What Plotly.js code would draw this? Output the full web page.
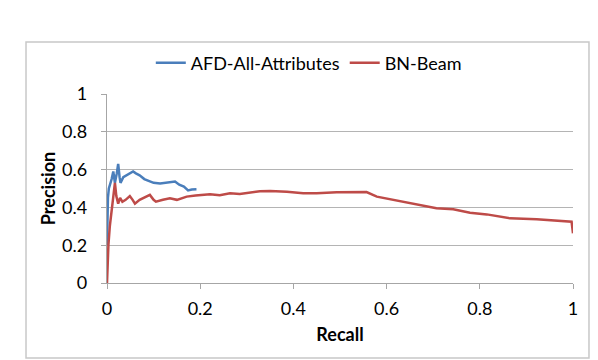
<!DOCTYPE html>
<html>
<head>
<meta charset="utf-8">
<script src="https://cdn.plot.ly/plotly-3.0.1.min.js"></script>
<style>html,body{margin:0;padding:0;background:#fff;}#chart{width:598px;height:360px;}</style>
</head>
<body>
<div id="chart"></div>
<script>
const afdName = "AFD-All-Attributes";
const afdRecall = [0, 0.0005, 0.002, 0.004, 0.007, 0.01, 0.0135, 0.017, 0.021, 0.024, 0.027, 0.029, 0.035, 0.042, 0.05, 0.056, 0.062, 0.07, 0.08, 0.092, 0.1, 0.114, 0.125, 0.135, 0.146, 0.155, 0.165, 0.174, 0.182, 0.192];
const afdPrecision = [0.2, 0.35, 0.45, 0.5, 0.52, 0.55, 0.59, 0.53, 0.58, 0.63, 0.56, 0.53, 0.56, 0.57, 0.58, 0.59, 0.58, 0.57, 0.55, 0.54, 0.53, 0.527, 0.53, 0.535, 0.537, 0.52, 0.51, 0.49, 0.495, 0.496];

const bnName = "BN-Beam";
const bnRecall = [0, 0.001, 0.003, 0.006, 0.01, 0.014, 0.017, 0.02, 0.024, 0.028, 0.033, 0.04, 0.049, 0.055, 0.06, 0.07, 0.08, 0.092, 0.1, 0.105, 0.12, 0.135, 0.15, 0.171, 0.19, 0.2, 0.221, 0.242, 0.264, 0.285, 0.307, 0.328, 0.35, 0.386, 0.421, 0.45, 0.493, 0.536, 0.557, 0.579, 0.607, 0.636, 0.672, 0.707, 0.743, 0.779, 0.815, 0.865, 0.922, 0.965, 0.997, 1.0];
const bnPrecision = [0, 0.1, 0.2, 0.3, 0.39, 0.47, 0.53, 0.46, 0.42, 0.45, 0.43, 0.44, 0.46, 0.44, 0.42, 0.44, 0.45, 0.466, 0.44, 0.43, 0.44, 0.448, 0.44, 0.457, 0.463, 0.466, 0.47, 0.464, 0.475, 0.471, 0.478, 0.485, 0.487, 0.483, 0.475, 0.475, 0.48, 0.481, 0.481, 0.457, 0.443, 0.43, 0.409, 0.395, 0.39, 0.372, 0.363, 0.342, 0.337, 0.33, 0.324, 0.263];

const xTitle = "Recall";
const yTitle = "Precision";

const font = "Lato, 'Open Sans', sans-serif";

const traces = [
  {x: afdRecall, y: afdPrecision, name: afdName, type: "scatter", mode: "lines",
   line: {color: "#4a7ebb", width: 2.5}},
  {x: bnRecall, y: bnPrecision, name: bnName, type: "scatter", mode: "lines",
   line: {color: "#be4b48", width: 2.5}}
];

const layout = {
  width: 598, height: 360,
  margin: {l: 107, r: 25, t: 94, b: 77},
  paper_bgcolor: "#ffffff", plot_bgcolor: "#ffffff",
  font: {family: font, size: 18, color: "#000"},
  showlegend: true,
  legend: {orientation: "h", x: 0.094, xanchor: "left", y: 1.164, yanchor: "middle",
           font: {family: font, size: 18, color: "#000"}, itemwidth: 30, tracegroupgap: 0},
  xaxis: {range: [0, 1], dtick: 0.2, tick0: 0, showgrid: false, zeroline: false,
          showline: true, linecolor: "#a6a6a6", linewidth: 1.3,
          ticks: "outside", ticklen: 5, tickcolor: "#a6a6a6", ticklabelstandoff: 4,
          tickfont: {family: font, size: 18},
          title: {text: xTitle, font: {family: font, size: 18, weight: "bold"}, standoff: 10}},
  yaxis: {range: [0, 1], dtick: 0.2, tick0: 0, showgrid: true, gridcolor: "#b4b4b4", gridwidth: 1.3,
          zeroline: false, showline: true, linecolor: "#a6a6a6", linewidth: 1.3,
          ticks: "outside", ticklen: 5, tickcolor: "#a6a6a6", ticklabelstandoff: 10,
          tickfont: {family: font, size: 18},
          title: {text: yTitle, font: {family: font, size: 18, weight: "bold"}, standoff: 1}},
  shapes: [{type: "rect", xref: "paper", yref: "paper",
            x0: -0.1738, x1: 1.0343, y0: -0.3968, y1: 1.2751,
            line: {color: "#c8c8c8", width: 1.5}, fillcolor: "rgba(0,0,0,0)", layer: "below"}]
};

Plotly.newPlot("chart", traces, layout, {displayModeBar: false, staticPlot: true});
</script>
</body>
</html>
